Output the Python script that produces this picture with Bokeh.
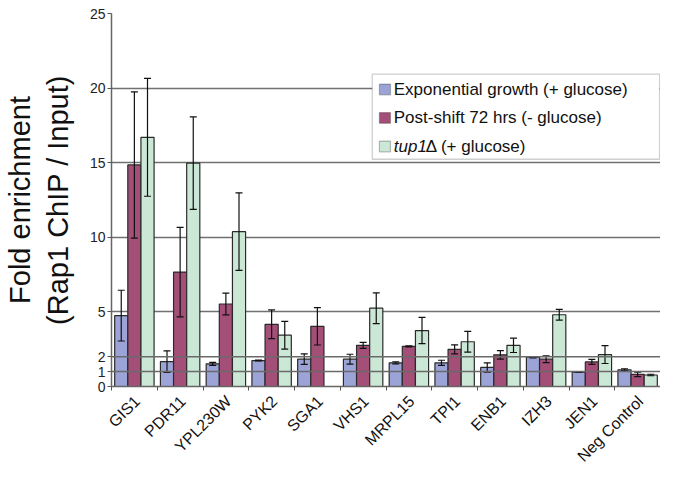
import math
from bokeh.plotting import figure
from bokeh.models import (Range1d, FixedTicker, ColumnDataSource, Whisker, TeeHead,
                          BoxAnnotation, Label, Span)
from bokeh.embed import file_html
from bokeh.resources import INLINE

# ---------------- data ----------------
categories = ["GIS1", "PDR11", "YPL230W", "PYK2", "SGA1", "VHS1", "MRPL15",
              "TPI1", "ENB1", "IZH3", "JEN1", "Neg Control"]
exp_vals = [4.75, 1.67, 1.52, 1.74, 1.83, 1.83, 1.59, 1.59, 1.28, 1.96, 0.97, 1.12]
exp_err = [1.70, 0.72, 0.10, 0.03, 0.35, 0.33, 0.07, 0.17, 0.31, 0.04, 0.03, 0.07]
post_vals = [14.85, 7.67, 5.53, 4.17, 4.03, 2.76, 2.69, 2.49, 2.12, 1.83, 1.65, 0.81]
post_err = [4.90, 3.00, 0.73, 0.96, 1.25, 0.20, 0.03, 0.30, 0.29, 0.23, 0.17, 0.15]
tup_vals = [16.70, 14.97, 10.38, 3.44, float("nan"), 5.25, 3.75, 3.00, 2.76, 4.81, 2.14, 0.77]
tup_err = [3.95, 3.10, 2.60, 0.93, float("nan"), 1.03, 0.88, 0.70, 0.48, 0.36, 0.60, 0.05]
y_ticks = [0, 1, 2, 5, 10, 15, 20, 25]
grid_under = [0, 5, 10, 15, 20, 25]
ref_lines = [1, 2]
series_names = ["Exponential growth (+ glucose)", "Post-shift 72 hrs (- glucose)", "tup1\u0394 (+ glucose)"]

# ---------------- style ----------------
FONT = "Liberation Sans"
colors = ["#9CA3D7", "#A34F78", "#CBE7D6"]
bar_w = 0.287
offsets = [-bar_w, 0.0, bar_w]
label_shift = 0.06          # rotated labels end slightly right of the group centre
n = len(categories)

p = figure(width=660, height=473, output_backend="svg", toolbar_location=None,
           x_range=Range1d(-0.5, n - 0.5), y_range=Range1d(0, 25),
           min_border_left=96, min_border_right=0, min_border_top=13, min_border_bottom=84)
p.outline_line_color = None
p.background_fill_color = "white"
p.border_fill_color = "white"

# bars + error bars
series = [(exp_vals, exp_err), (post_vals, post_err), (tup_vals, tup_err)]
for (vals, errs), off, col in zip(series, offsets, colors):
    xs = [i + off for i in range(n)]
    src = ColumnDataSource(dict(
        x=xs, top=vals,
        upper=[v + e for v, e in zip(vals, errs)],
        lower=[v - e for v, e in zip(vals, errs)]))
    p.vbar(x="x", top="top", bottom=0, width=bar_w, source=src,
           fill_color=col, line_color="#2a2a2a", line_width=1.2)
    w = Whisker(base="x", upper="upper", lower="lower", source=src,
                line_color="#111111", line_width=1.2, level="overlay",
                upper_head=TeeHead(size=7, line_color="#111111", line_width=1.2),
                lower_head=TeeHead(size=7, line_color="#111111", line_width=1.2))
    p.add_layout(w)

# reference lines at 1 and 2 are drawn over the bars
for v in ref_lines:
    p.add_layout(Span(location=v, dimension="width", line_color="#6a6a6a",
                      line_width=1.5, level="overlay"))

# x axis: boundary ticks, rotated category labels
label_pos = [i + label_shift for i in range(n)]
p.xaxis.ticker = FixedTicker(ticks=label_pos,
                             minor_ticks=[i - 0.5 for i in range(n + 1)])
p.xaxis.major_label_overrides = {pos: c for pos, c in zip(label_pos, categories)}
p.xaxis.major_label_orientation = math.pi / 4
p.xaxis.major_tick_line_color = None
p.xaxis.major_tick_out = 4
p.xaxis.minor_tick_line_color = "#555555"
p.xaxis.minor_tick_out = 4
p.xaxis.minor_tick_in = 0
p.xaxis.axis_line_color = "#666666"
p.xaxis.axis_line_width = 1.5
p.xaxis.major_label_text_font = FONT
p.xaxis.major_label_text_font_size = "16px"
p.xaxis.major_label_text_color = "#111111"
p.xaxis.major_label_standoff = 8
p.xaxis.axis_label_standoff = 0

# y axis
p.yaxis.ticker = FixedTicker(ticks=y_ticks)
p.yaxis.minor_tick_line_color = None
p.yaxis.major_tick_in = 0
p.yaxis.major_tick_out = 4
p.yaxis.major_tick_line_color = "#555555"
p.yaxis.axis_line_color = "#666666"
p.yaxis.axis_line_width = 1.5
p.yaxis.major_label_text_font = FONT
p.yaxis.major_label_text_font_size = "14px"
p.yaxis.major_label_text_color = "#222222"
p.yaxis.major_label_standoff = 2
p.yaxis.axis_label = "Fold enrichment\n(Rap1 ChIP / Input)"
p.yaxis.axis_label_text_font = FONT
p.yaxis.axis_label_text_font_size = "29px"
p.yaxis.axis_label_text_font_style = "normal"
p.yaxis.axis_label_text_color = "#111111"
p.yaxis.axis_label_standoff = 13

p.xgrid.grid_line_color = None
p.ygrid.ticker = FixedTicker(ticks=grid_under)
p.ygrid.grid_line_color = "#707070"
p.ygrid.grid_line_width = 1.5

# legend (drawn manually so that "tup1" can be italic)
box = BoxAnnotation(left=5.20, right=11.48, top=20.94, bottom=15.23,
                    fill_color="white", fill_alpha=1.0,
                    line_color="#606060", line_width=1.3)
p.add_layout(box)
row_y = [19.91, 18.0, 16.09]
sw_left, sw_right, sw_half = 5.356, 5.598, 0.36
text_x = 5.67
for ry, col in zip(row_y, colors):
    p.add_layout(BoxAnnotation(left=sw_left, right=sw_right, top=ry + sw_half,
                               bottom=ry - sw_half, fill_color=col, fill_alpha=1.0,
                               line_color="#2a2a2a", line_width=1.2))
for ry, name in zip(row_y[:2], series_names[:2]):
    p.add_layout(Label(x=text_x, y=ry, text=name, text_font=FONT,
                       text_font_size="17px", text_baseline="middle",
                       text_color="#111111"))
p.add_layout(Label(x=text_x, y=row_y[2], text="tup1", text_font=FONT,
                   text_font_style="italic", text_font_size="17px",
                   text_baseline="middle", text_color="#111111"))
p.add_layout(Label(x=text_x, y=row_y[2], x_offset=32, text="\u0394 (+ glucose)",
                   text_font=FONT, text_font_size="17px", text_baseline="middle",
                   text_color="#111111"))

open("out.html", "w").write(file_html(p, INLINE))
